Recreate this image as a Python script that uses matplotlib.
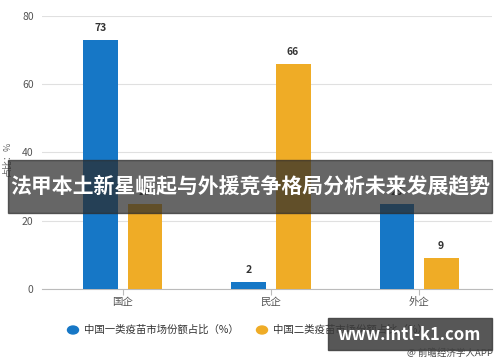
import matplotlib.pyplot as plt
import matplotlib.patches as patches
import numpy as np

plt.rcParams['font.family'] = ['Noto Sans CJK SC', 'DejaVu Sans']

categories = ["国企", "民企", "外企"]
type1_share = [73, 2, 25]
type2_share = [25, 66, 9]
series_names = ["中国一类疫苗市场份额占比（%）", "中国二类疫苗市场份额占比（%）"]

blue = "#1677c6"
yellow = "#efac26"

fig = plt.figure(figsize=(5, 3.62), dpi=100)
ax = fig.add_axes([0.084, 0.2017, 0.9, 0.7543])

x = np.arange(len(categories))
width = 0.236
off = 0.149

b1 = ax.bar(x - off, type1_share, width, color=blue, label=series_names[0], zorder=3)
b2 = ax.bar(x + off, type2_share, width, color=yellow, label=series_names[1], zorder=3)

for rects, vals in [(b1, type1_share), (b2, type2_share)]:
    for r, v in zip(rects, vals):
        ax.text(r.get_x() + r.get_width() / 2, v + 2.0, str(v), ha="center", va="bottom",
                fontsize=7.5, fontweight="bold", color="#333333", zorder=4)

ax.set_ylim(0, 80)
ax.set_xlim(-0.547, 2.493)
ax.set_yticks([0, 20, 40, 60, 80])
ax.yaxis.grid(True, color="#e0e0e0", linewidth=0.8, zorder=0)
ax.set_xticks(x)
ax.set_xticklabels(categories, fontsize=7.5, color="#555555")
ax.tick_params(axis="y", length=0, labelsize=7.5, labelcolor="#555555", pad=6)
ax.tick_params(axis="x", length=4, color="#bbbbbb", pad=2)
for s in ["top", "right", "left"]:
    ax.spines[s].set_visible(False)
ax.spines["bottom"].set_color("#bbbbbb")
ax.set_ylabel("占比：%", fontsize=6.5, color="#666666")
ax.yaxis.set_label_coords(-0.068, 0.48)

# legend
fig.patches.append(patches.Circle((73 / 500, 1 - 330 / 362), 0.011, transform=fig.transFigure,
                                  color=blue, figure=fig))
fig.text(84 / 500, 1 - 330 / 362, series_names[0], fontsize=7.5, color="#333333", va="center")
fig.patches.append(patches.Circle((262 / 500, 1 - 330 / 362), 0.011, transform=fig.transFigure,
                                  color=yellow, figure=fig))
fig.text(273 / 500, 1 - 330 / 362, series_names[1], fontsize=7.5, color="#333333", va="center")

# overlay banners
fig.patches.append(patches.Rectangle((8 / 500, 1 - 213 / 362), 484 / 500, 53 / 362,
                                     transform=fig.transFigure, color="#2b2b2b", alpha=0.72,
                                     figure=fig, zorder=5))
fig.text(250 / 500, 1 - 186 / 362, "法甲本土新星崛起与外援竞争格局分析未来发展趋势",
         fontsize=15, fontweight="bold", color="white", ha="center", va="center", zorder=6)

fig.patches.append(patches.Rectangle((328 / 500, 1 - 350 / 362), 164 / 500, 32 / 362,
                                     transform=fig.transFigure, color="#3a3a3a", alpha=0.85,
                                     figure=fig, zorder=5))
fig.text(409 / 500, 1 - 335 / 362, "www.intl-k1.com", fontsize=12, fontweight="bold",
         color="white", ha="center", va="center", zorder=6)

fig.text(493 / 500, 1 - 353 / 362, "@ 前瞻经济学人APP", fontsize=6.8, color="#444444",
         ha="right", va="center", zorder=7)

plt.savefig("out.png", dpi=100)
